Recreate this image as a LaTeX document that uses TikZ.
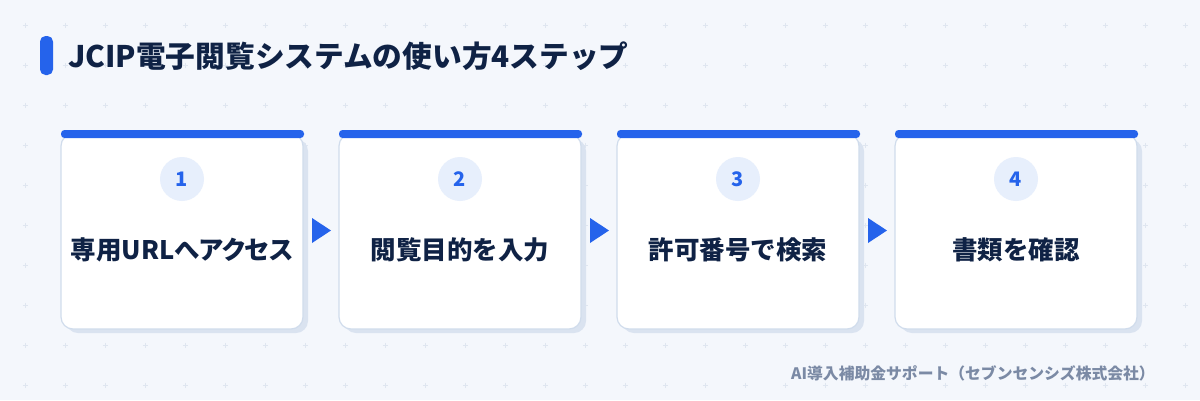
\documentclass[tikz,border=0pt]{standalone}
\usepackage{fontspec}
\setmainfont{Noto Sans CJK JP}
\newfontfamily\paltfont{Noto Sans CJK JP}[RawFeature=+palt]
\definecolor{bgc}{HTML}{F4F7FC}
\definecolor{plusc}{HTML}{DFE6F0}
\definecolor{cardline}{HTML}{D0DCEC}
\definecolor{shadowc}{HTML}{DAE3F0}
\definecolor{accent}{HTML}{2563EB}
\definecolor{navy}{HTML}{0F2245}
\definecolor{circc}{HTML}{E7EFFC}
\definecolor{footc}{HTML}{7B8AA5}
\tikzset{
  plusmark/.style={draw=plusc, line width=0.7pt},
  cardbox/.style={draw=cardline, fill=white, line width=1.2pt, rounded corners=12pt},
  cardshadow/.style={fill=shadowc, rounded corners=12pt},
  topbar/.style={fill=accent, rounded corners=3.5pt},
  numcirc/.style={circle, fill=circc, minimum size=44pt, inner sep=0pt, text=accent, font=\bfseries\fontsize{20}{22}\selectfont},
  steplabel/.style={text=navy, inner sep=0pt, font=\bfseries\fontsize{25.5}{28}\selectfont},
  flowarrow/.style={fill=accent}
}
\begin{document}
\begin{tikzpicture}[x=1pt,y=-1pt]
\fill[bgc] (0,0) rectangle (1200,400);
\useasboundingbox (0,0) rectangle (1200,400);
\foreach \gx in {0,...,29}{
  \foreach \gy in {0,...,9}{
    \pgfmathsetmacro{\px}{25+40*\gx}
    \pgfmathsetmacro{\py}{25+40*\gy}
    \draw[plusmark] (\px-2.5,\py) -- (\px+2.5,\py) (\px,\py-2.5) -- (\px,\py+2.5);
  }
}
% title
\fill[accent, rounded corners=5.5pt] (40,36) rectangle (53,75);
\node[anchor=west, inner sep=0pt, text=navy, font=\bfseries\fontsize{29.7}{32}\selectfont] (title) at (68,56) {JCIP電子閲覧システムの使い方4ステップ};
% cards
\foreach \i/\t in {1/{\paltfont 専用URLへアクセス},2/閲覧目的を入力,3/許可番号で検索,4/書類を確認}{
  \pgfmathsetmacro{\xa}{61+278*(\i-1)}
  \fill[cardshadow] (\xa+5,139) rectangle (\xa+247,333);
  \draw[cardbox] (\xa,134) rectangle (\xa+242,329);
  \fill[topbar] (\xa,130) rectangle (\xa+243,138);
  \node[numcirc] (n\i) at (\xa+121,179) {\i};
  \node[steplabel] (l\i) at (\xa+121,250) {\t};
}
\foreach \j in {1,2,3}{
  \pgfmathsetmacro{\ax}{312+278*(\j-1)}
  \fill[flowarrow] (\ax,218) -- (\ax+19,230.5) -- (\ax,243) -- cycle;
}
% footer
\node[anchor=west, inner sep=0pt, text=footc, font=\bfseries\fontsize{15.8}{18}\selectfont] (foot) at (791,373) {AI導入補助金サポート（セブンセンシズ株式会社）};
\end{tikzpicture}
\end{document}
